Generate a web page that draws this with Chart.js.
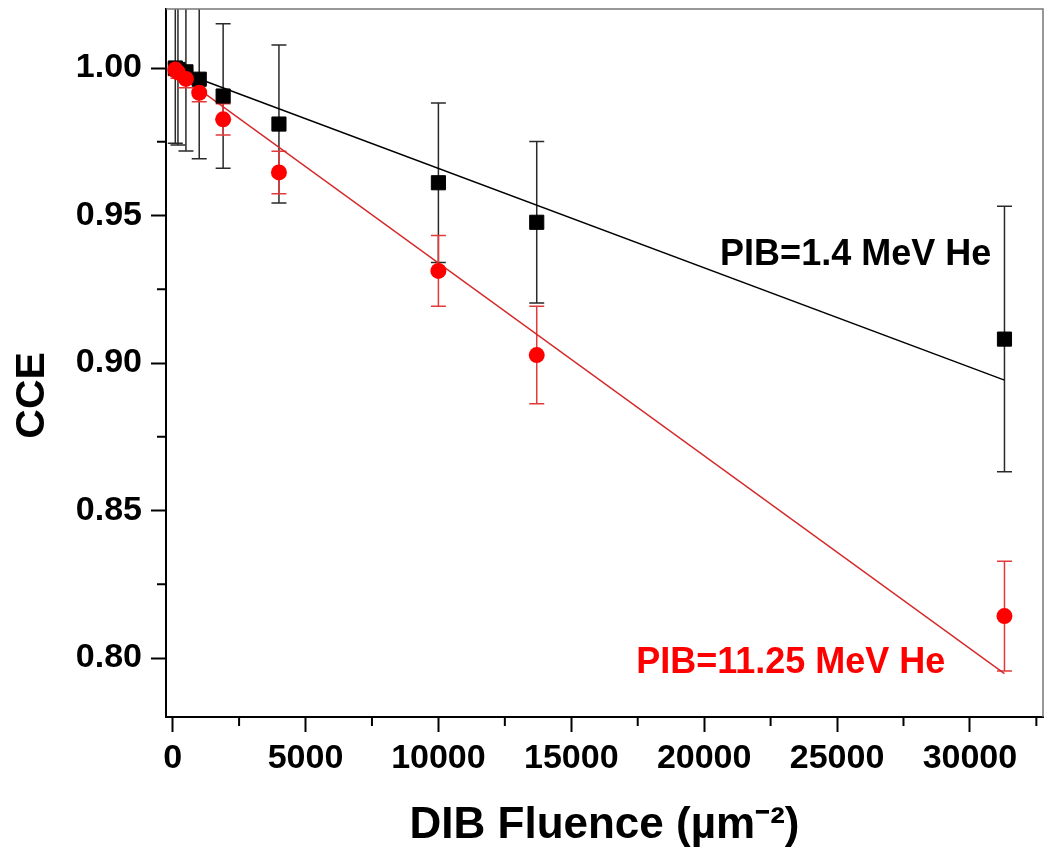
<!DOCTYPE html>
<html>
<head>
<meta charset="utf-8">
<script src="https://cdn.jsdelivr.net/npm/chart.js@4.4.1/dist/chart.umd.min.js"></script>
<style>
  html, body { margin: 0; padding: 0; background: #fff; }
  canvas { display: block; }
</style>
</head>
<body>
<canvas id="chart" width="1049" height="855"></canvas>
<script>
// data
const fluence = [100, 200, 500, 1000, 1900, 4000, 10000, 13700, 31300];

// PIB = 1.4 MeV He (black squares)
const cceLow = [1.000, 0.9995, 0.9987, 0.9962, 0.9905, 0.9810, 0.9611, 0.9477, 0.9081];
const errLow = [0.0255, 0.0256, 0.0268, 0.0270, 0.0245, 0.0268, 0.0270, 0.0274, 0.0450];

// PIB = 11.25 MeV He (red circles)
const cceHigh = [0.9995, 0.9985, 0.9963, 0.9916, 0.9826, 0.9646, 0.9312, 0.9027, 0.8142];
const errHigh = [0.0020, 0.0020, 0.0030, 0.0030, 0.0053, 0.0072, 0.0120, 0.0165, 0.0186];

// linear fits (end points)
const fitX = [100, 31300];
const fitLow = [0.9993, 0.8942];
const fitHigh = [0.9986, 0.7947];

// axes
const xTicks = [0, 5000, 10000, 15000, 20000, 25000, 30000];
const yTicks = [0.80, 0.85, 0.90, 0.95, 1.00];

const labelLow = 'PIB=1.4 MeV He';
const labelHigh = 'PIB=11.25 MeV He';
const yTitle = 'CCE';

const FONT = "'Liberation Sans', Arial, Helvetica, sans-serif";

function pts(xs, ys) {
    return xs.map((v, i) => ({x: v, y: ys[i]}));
}

// vertical error bars with caps, drawn under the markers
const errorBars = {
    id: 'errorBars',
    beforeDatasetsDraw(chart) {
        const {ctx, chartArea, scales: {x, y}} = chart;
        ctx.save();
        ctx.beginPath();
        ctx.rect(chartArea.left, chartArea.top, chartArea.right - chartArea.left, chartArea.bottom - chartArea.top);
        ctx.clip();
        const sets = [
            [cceLow, errLow, '#2a2a2a'],
            [cceHigh, errHigh, '#e23a3a']
        ];
        sets.forEach(([vals, errs, color]) => {
            ctx.strokeStyle = color;
            ctx.lineWidth = 1.5;
            fluence.forEach((f, i) => {
                const px = x.getPixelForValue(f);
                const top = y.getPixelForValue(vals[i] + errs[i]);
                const bot = y.getPixelForValue(vals[i] - errs[i]);
                ctx.beginPath();
                ctx.moveTo(px, top);
                ctx.lineTo(px, bot);
                ctx.moveTo(px - 7.5, top);
                ctx.lineTo(px + 7.5, top);
                ctx.moveTo(px - 7.5, bot);
                ctx.lineTo(px + 7.5, bot);
                ctx.stroke();
            });
        });
        ctx.restore();
    }
};

// frame, minor ticks, y title and the two series labels
const decorations = {
    id: 'decorations',
    afterDraw(chart) {
        const {ctx, chartArea: a, scales: {x, y}} = chart;
        ctx.save();
        // top and right frame
        ctx.strokeStyle = '#777';
        ctx.lineWidth = 1.5;
        ctx.beginPath();
        ctx.moveTo(a.left, a.top);
        ctx.lineTo(a.right, a.top);
        ctx.lineTo(a.right, a.bottom);
        ctx.stroke();

        // minor ticks
        ctx.strokeStyle = '#000';
        ctx.lineWidth = 2;
        ctx.beginPath();
        for (let v = 2500; v <= x.max; v += 5000) {
            const px = x.getPixelForValue(v);
            ctx.moveTo(px, a.bottom);
            ctx.lineTo(px, a.bottom + 9);
        }
        for (let v = 0.825; v < y.max; v += 0.05) {
            const py = y.getPixelForValue(v);
            ctx.moveTo(a.left, py);
            ctx.lineTo(a.left - 9, py);
        }
        ctx.stroke();

        // y axis title, sits a little below the middle as in the original
        ctx.save();
        ctx.translate(33, y.getPixelForValue(0.889));
        ctx.rotate(-Math.PI / 2);
        ctx.font = 'bold 41px ' + FONT;
        ctx.textAlign = 'center';
        ctx.textBaseline = 'middle';
        ctx.fillStyle = '#000';
        ctx.fillText(yTitle, 0, 0);
        ctx.restore();

        // series labels
        ctx.font = 'bold 36px ' + FONT;
        ctx.textBaseline = 'middle';
        ctx.textAlign = 'left';
        ctx.fillStyle = '#000';
        ctx.fillText(labelLow, x.getPixelForValue(20600), y.getPixelForValue(0.9366));
        ctx.fillStyle = '#ff0000';
        ctx.fillText(labelHigh, x.getPixelForValue(17440), y.getPixelForValue(0.7983));
        ctx.restore();
    }
};

new Chart(document.getElementById('chart'), {
    type: 'scatter',
    data: {
        datasets: [
            {
                label: labelHigh,
                data: pts(fluence, cceHigh),
                pointStyle: 'circle',
                pointRadius: 8,
                pointBackgroundColor: '#ff0000',
                pointBorderColor: '#ff0000',
                pointBorderWidth: 0,
                order: 1
            },
            {
                label: labelLow,
                data: pts(fluence, cceLow),
                pointStyle: 'rect',
                pointRadius: 10,
                pointBackgroundColor: '#000',
                pointBorderColor: '#000',
                pointBorderWidth: 1,
                order: 2
            },
            {
                label: 'fit 11.25 MeV',
                data: pts(fitX, fitHigh),
                showLine: true,
                pointRadius: 0,
                borderColor: '#d42a2a',
                borderWidth: 1.4,
                order: 3
            },
            {
                label: 'fit 1.4 MeV',
                data: pts(fitX, fitLow),
                showLine: true,
                pointRadius: 0,
                borderColor: '#000',
                borderWidth: 1.5,
                order: 4
            }
        ]
    },
    options: {
        responsive: false,
        animation: false,
        devicePixelRatio: 1,
        layout: { autoPadding: false, padding: { top: 9, right: 6, left: 0, bottom: 0 } },
        plugins: {
            legend: { display: false },
            tooltip: { enabled: false }
        },
        scales: {
            x: {
                type: 'linear',
                min: -250,
                max: 32750,
                afterBuildTicks: s => { s.ticks = xTicks.map(v => ({value: v})); },
                afterFit: s => { s.height = 138; s.paddingLeft = 0; s.paddingRight = 0; },
                grid: { drawOnChartArea: false, drawTicks: true, tickLength: 15, tickWidth: 2, tickColor: '#000' },
                border: { display: true, color: '#000', width: 2 },
                ticks: {
                    autoSkip: false,
                    maxRotation: 0,
                    padding: 6,
                    color: '#000',
                    font: { family: FONT, size: 34, weight: 'bold' },
                    callback: v => String(v)
                },
                title: {
                    display: true,
                    text: 'DIB Fluence (\u00b5m\u207b\u00b2)',
                    color: '#000',
                    font: { family: FONT, size: 44, weight: 'bold' },
                    padding: { top: 0, bottom: 3 }
                }
            },
            y: {
                type: 'linear',
                min: 0.78,
                max: 1.02,
                afterBuildTicks: s => { s.ticks = yTicks.map(v => ({value: v})); },
                afterFit: s => { s.width = 166; s.paddingTop = 0; s.paddingBottom = 0; },
                grid: { drawOnChartArea: false, drawTicks: true, tickLength: 15, tickWidth: 2, tickColor: '#000' },
                border: { display: true, color: '#000', width: 2 },
                ticks: {
                    padding: 9,
                    color: '#000',
                    font: { family: FONT, size: 34, weight: 'bold' },
                    callback: v => Number(v).toFixed(2)
                },
                title: { display: false }
            }
        }
    },
    plugins: [errorBars, decorations]
});
</script>
</body>
</html>
